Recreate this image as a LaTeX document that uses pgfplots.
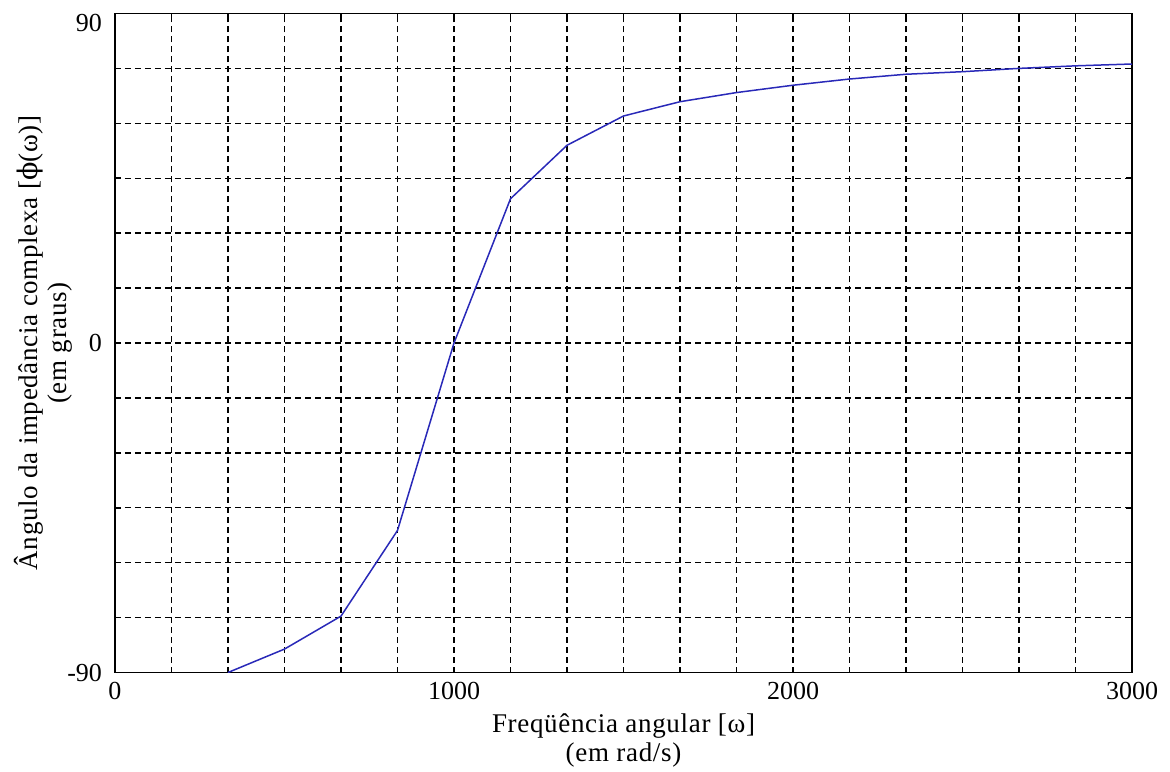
\documentclass[border=0pt]{standalone}
\usepackage{fontspec}
\setmainfont{Liberation Serif}
\newfontfamily\lblfont[LetterSpace=2.5]{Liberation Serif}
\newfontfamily\dvs{DejaVu Serif}
\usepackage{pgfplots}
\pgfplotsset{compat=1.18}
\definecolor{curve}{rgb}{0.16,0.16,0.72}
\begin{document}
\begin{tikzpicture}
\useasboundingbox (-57.5pt,-49.25pt) rectangle (527.5pt,336.25pt);
\begin{axis}[
  at={(0pt,0pt)}, anchor=south west,
  scale only axis, width=508.5pt, height=329.5pt,
  xmin=0, xmax=3000, ymin=-90, ymax=90,
  xtick={0,166.667,333.333,500,666.667,833.333,1000,1166.667,1333.333,1500,1666.667,1833.333,2000,2166.667,2333.333,2500,2666.667,2833.333,3000},
  xticklabels={0,,,,,,1000,,,,,,2000,,,,,,3000},
  ytick={-90,-75,-60,-45,-30,-15,0,15,30,45,60,75},
  yticklabels={-90,,,,,,0,,,,,},
  extra y ticks={90},
  extra y tick labels={90},
  extra y tick style={yticklabel style={anchor=north east, yshift=3pt}},
  tick align=inside, tick pos=both,
  major tick length=3pt,
  every tick/.style={black, line width=0.8pt},
  grid=major,
  major grid style={black, line width=0.7pt, dash pattern=on 3pt off 2pt},
  axis line style={black, line width=0.9pt},
  /pgf/number format/assume math mode=true,
  tick label style={font=\fontsize{13}{15}\selectfont},
  xticklabel style={yshift=-1.5pt},
  yticklabel style={xshift=-3pt},
  xlabel={Freqüência angular [ω]\\(em rad/s)},
  ylabel={Ângulo da impedância complexa [{\dvs ϕ}(ω)]\\(em graus)},
  label style={font=\lblfont\fontsize{13.5}{14.5}\selectfont, align=center},
  xlabel style={at={(axis description cs:0.5,-0.052)}, anchor=north},
  ylabel style={at={(axis description cs:-0.035,0.5)}, anchor=south},
]
\addplot[curve, line width=0.75pt] coordinates {
(333.333,-90) (500,-83.6) (666.667,-74.6) (833.333,-51.2) (1000,0)
(1166.667,39.4) (1333.333,54.0) (1500,62.0) (1666.667,65.9) (1833.333,68.4)
(2000,70.4) (2166.667,72.1) (2333.333,73.4) (2500,74.1) (2666.667,75.0)
(2833.333,75.7) (3000,76.2)
};
\end{axis}
\end{tikzpicture}
\end{document}
